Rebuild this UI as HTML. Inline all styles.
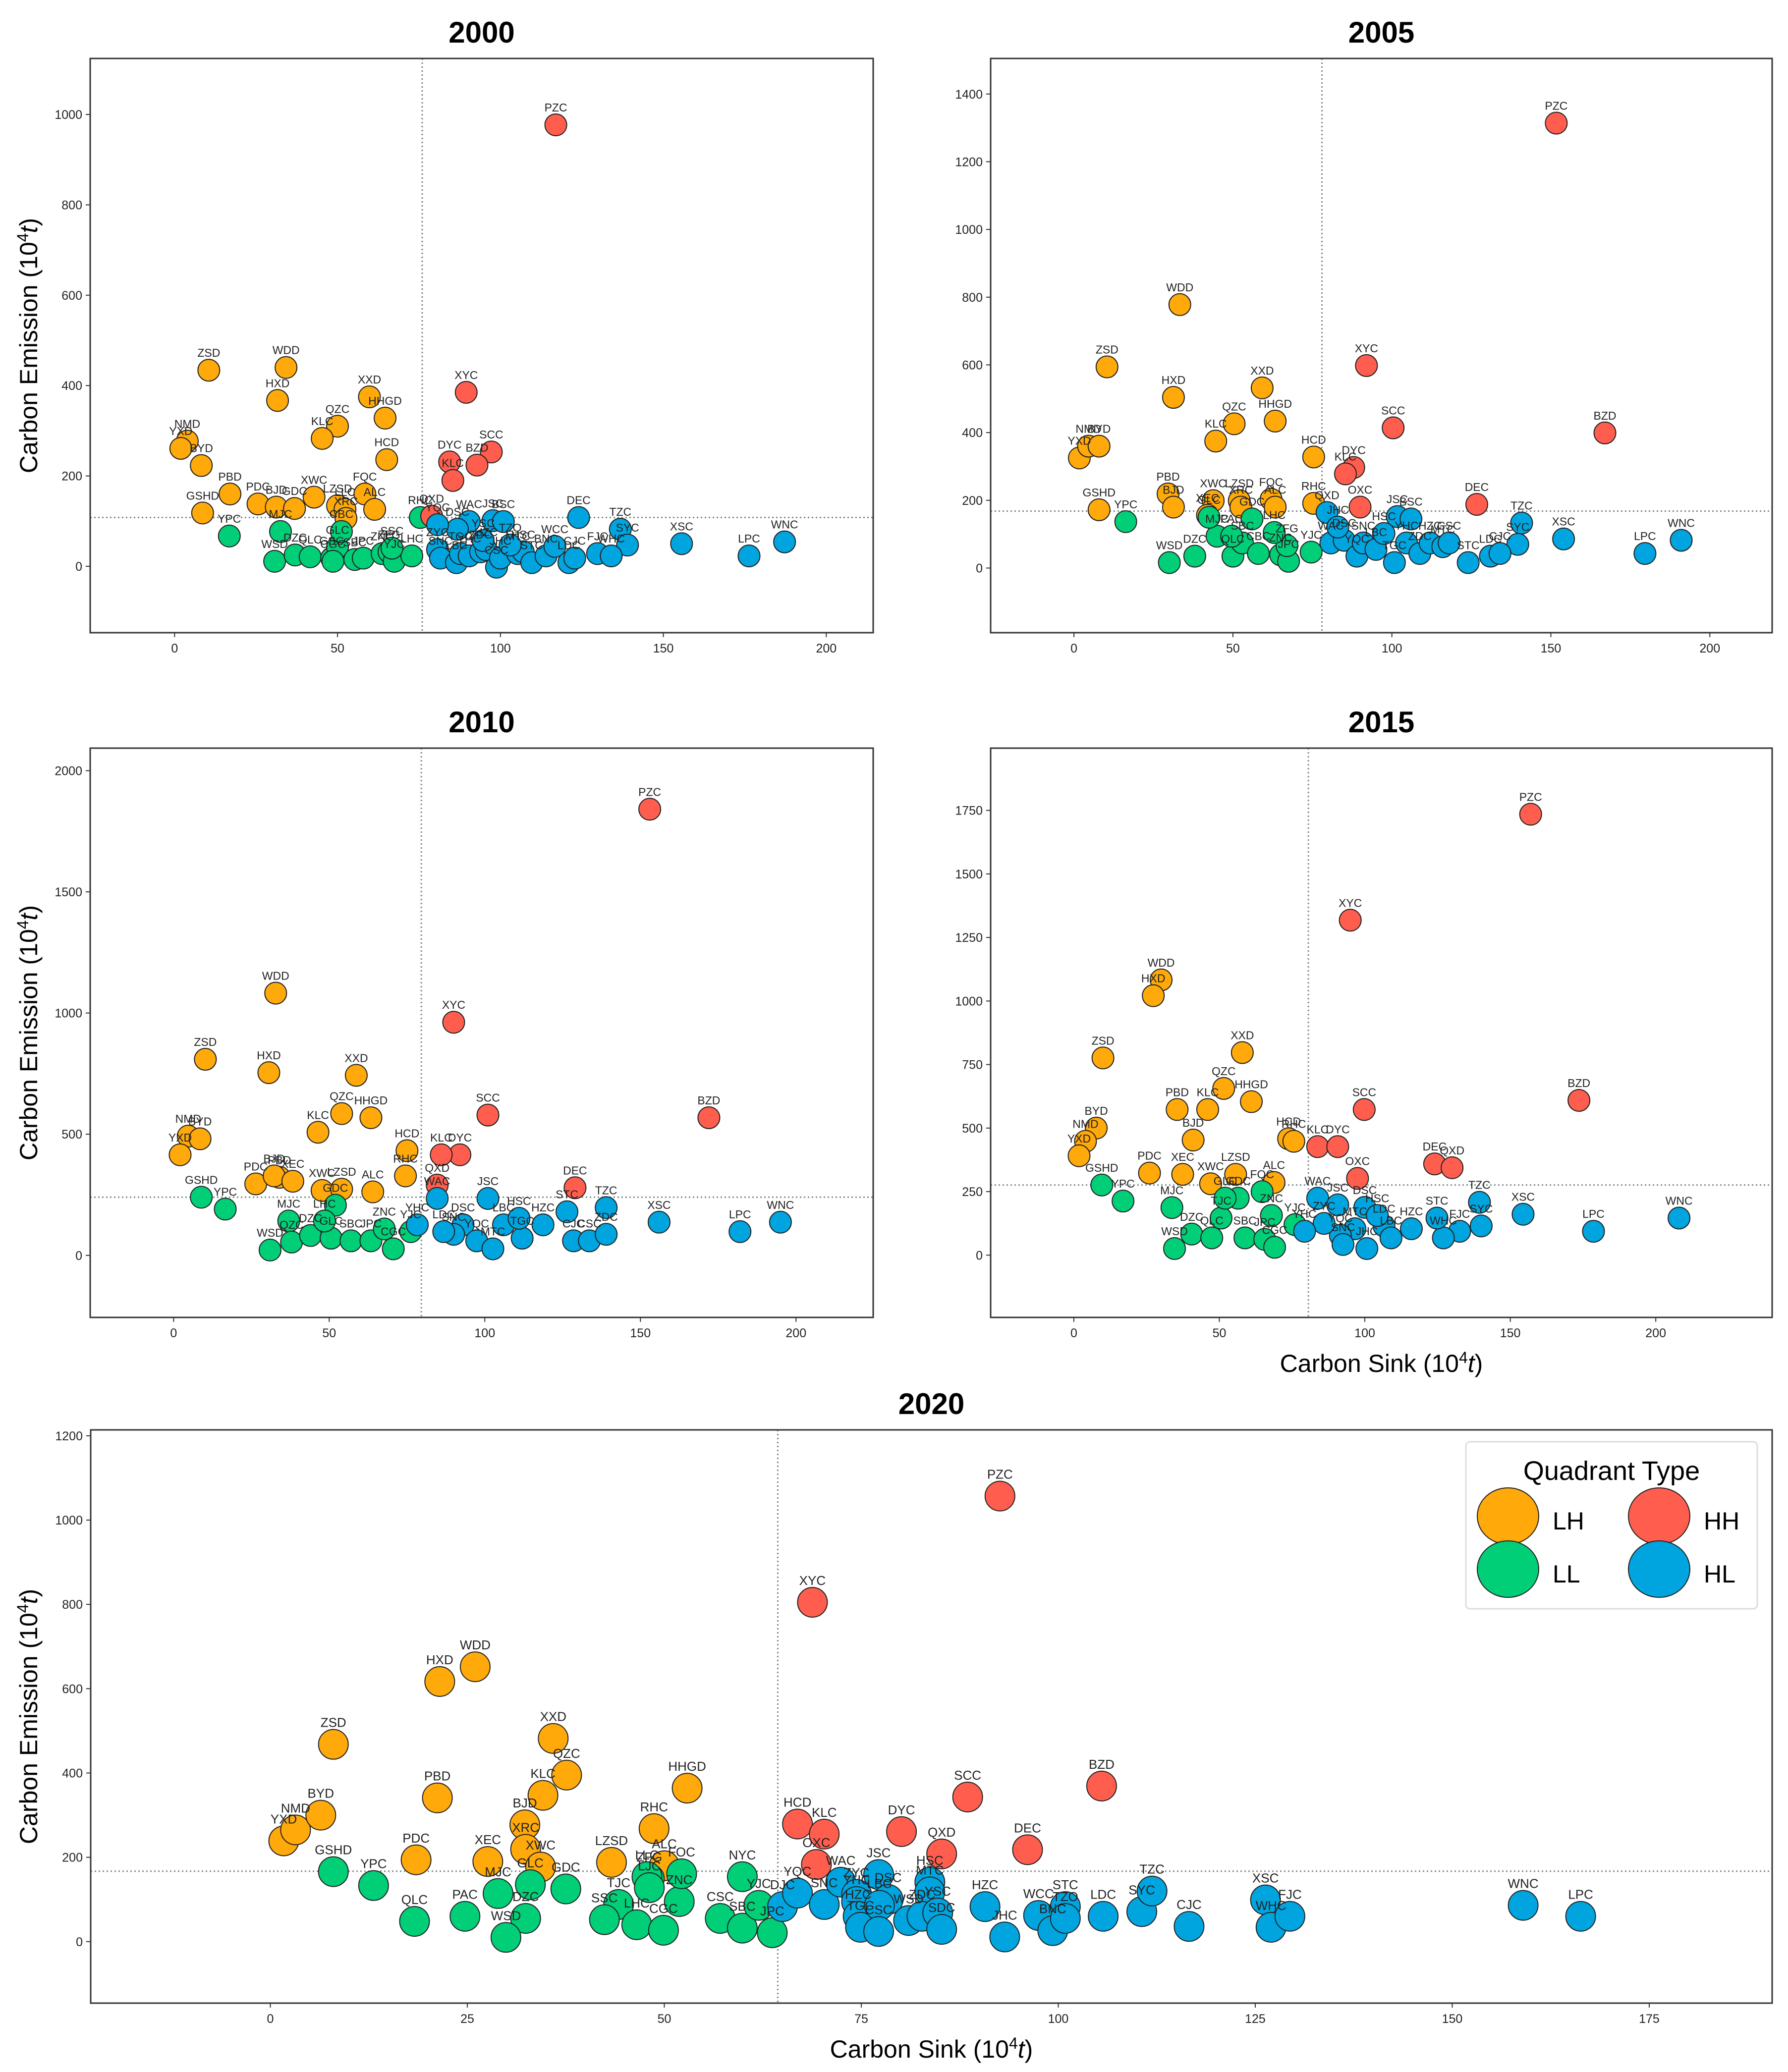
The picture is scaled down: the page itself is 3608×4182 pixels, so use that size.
<!DOCTYPE html>
<html><head><meta charset="utf-8">
<style>
html,body{margin:0;padding:0;background:#fff;}
svg{display:block;}
text{font-family:"Liberation Sans",sans-serif;}
</style></head>
<body>
<svg id="chart" xmlns="http://www.w3.org/2000/svg" width="3608" height="4182" viewBox="0 0 3608 4182">
<rect x="0" y="0" width="3608" height="4182" fill="#fff"/>
</svg>
<script>
// ---------- DATA: 2000 ----------
const names2000 = ["ZSD","WDD","HXD","XXD","HHGD","QZC","KLC","HCD","NMD","YXD","BYD","PBD","GSHD","PDC","BJD","GDC","XWC","LZSD","LLC","XRC","FQC","ALC",
"MJC","YPC","WSD","DZC","QLC","GSC","GLC","CBC","SBC","JPC","ZNC","ZFG","YJC","LHC","CGC","SSC","RHC",
"PZC","XYC","SCC","DYC","BZD","KLC","QXD",
"DEC","TZC","SYC","XSC","LPC","WNC","JSC","BSC","WAC","DSC","YQC","ZYC","SNC","LBC","TGC","YHC","ZDC","HZC","CSC","JHC","MTC","HSC","STC","BNC","WCC","LDC","CJC","FJC","WHC","TZO","YSC"];
const sink2000 = [10.5,34.2,31.6,59.8,64.6,50,45.3,65.1,3.9,1.9,8.2,17,8.6,25.6,31.2,36.8,42.8,50,52.3,52.6,58.4,61.4,
32.5,16.8,30.7,37,41.6,48.2,50,51.2,55.3,57.9,63.7,65.8,67.4,72.8,48.6,66.7,75.4,
117,89.5,97.2,84.4,92.8,85.4,78.9,
124,136.8,139,155.6,176.3,187.2,97.7,100.9,90.4,86.8,80.7,80.7,81.6,86.5,87.7,90.4,93.9,95.6,98.8,100,105.3,107,109.6,114,116.7,121,122.8,129.8,134,103,94.7];
const emis2000 = [434,440,367,375,328,310,283,236,277,261,223,160,118,138,131,128,153,134,126,106,160,126,
77,67,11,25,21,18,42,77,15,18,28,32,11,23,11,40,108,
977,385,253,231,224,190,111,
108,82,47,50,23,54,101,99,99,82,92,37,18,8,28,23,32,37,-2,18,28,32,8,23,44,8,18,28,23,47,57];
const quad2000 = "LH,LH,LH,LH,LH,LH,LH,LH,LH,LH,LH,LH,LH,LH,LH,LH,LH,LH,LH,LH,LH,LH,LL,LL,LL,LL,LL,LL,LL,LL,LL,LL,LL,LL,LL,LL,LL,LL,LL,HH,HH,HH,HH,HH,HH,HH,HL,HL,HL,HL,HL,HL,HL,HL,HL,HL,HL,HL,HL,HL,HL,HL,HL,HL,HL,HL,HL,HL,HL,HL,HL,HL,HL,HL,HL,HL,HL".split(",");

// ---------- DATA: 2005 ----------
const names2005 = ["WDD","ZSD","HXD","XXD","QZC","HHGD","KLC","HCD","YXD","NMD","BYD","PBD","BJD","GSHD","XWC","LZSD","FQC","ALC","RHC","XEC","XRC",
"YPC","WSD","DZC","MJC","GLC","GDC","QLC","SBC","CBC","ZNC","JPC","ZFG","YJC","LHC","PAC",
"PZC","XYC","SCC","BZD","DEC","DYC","KLC","OXC",
"TZC","XSC","LPC","WNC","SYC","JSC","BSC","QXD","WAC","DSC","YQC","SNC","LBC","TGC","YHC","ZDC","HZC","MTC","CSC","STC","LDC","CJC","HSC","JHC"];
const sink2005 = [33.3,10.4,31.3,59.2,50.4,63.3,44.6,75.4,1.7,4.6,7.9,29.6,31.3,7.9,43.8,52,62,63.3,75.4,42,52.5,
16.3,30,38,45,42.5,56,50,53,58,65,67.5,67,74.6,63,49.6,
151.7,92,100.4,167,126.7,88,85.4,90,
140.8,154,179.6,191,139.6,101.7,106,79.6,80.8,85,89,91,95,100.8,104.6,108.8,112,116,118,124,131,134,97.5,83];
const emis2005 = [778,594,504,532,426,434,375,328,325,360,360,219,180,172,199,199,203,180,191,156,180,
137,16,35,94,150,145,35,74,43,39,20,66,47,105,94,
1314,598,414,399,188,297,278,180,
133,86,43,82,70,152,145,164,74,82,35,74,55,16,74,43,74,63,74,16,35,43,102,121];
const quad2005 = "LH,LH,LH,LH,LH,LH,LH,LH,LH,LH,LH,LH,LH,LH,LH,LH,LH,LH,LH,LH,LH,LL,LL,LL,LL,LL,LL,LL,LL,LL,LL,LL,LL,LL,LL,LL,HH,HH,HH,HH,HH,HH,HH,HH,HL,HL,HL,HL,HL,HL,HL,HL,HL,HL,HL,HL,HL,HL,HL,HL,HL,HL,HL,HL,HL,HL,HL,HL".split(",");

// ---------- DATA: 2010 ----------
const names2010 = ["WDD","ZSD","HXD","XXD","QZC","HHGD","KLC","NMD","BYD","YXD","HCD","PBD","PDC","BJD","XEC","RHC","XWC","ALC","LZSD",
"GSHD","YPC","MJC","WSD","QZC","DZC","GLC","SBC","JPC","CGC","ZNC","GDC","LHC","YJC",
"PZC","XYC","SCC","BZD","DEC","DYC","KLC","QXD",
"XSC","LPC","WNC","STC","TZC","JSC","WAC","DSC","YQC","SNC","MTC","LBC","TGC","HZC","CJC","CSC","ZDC","HSC","LDC","YHC"];
const sink2010 = [32.8,10.2,30.6,58.7,54,63.4,46.4,4.7,8.5,2.1,75,34,26.4,32.3,38.3,74.5,47.7,64,54,
8.9,16.6,37,31,37.9,44,50.6,57,63.4,70.6,67.7,52,48.5,76.2,
153,90,101,172,129,92,86,84.7,
156,182,195,126.4,139,101,84.7,93,97.4,90,102.6,106,112,118.7,128.5,133.6,139,111,86.8,78.3];
const emis2010 = [1082,809,754,743,585,568,508,492,481,415,432,322,295,328,306,328,268,262,273,
240,191,142,22,55,82,71,60,60,27,109,207,142,98,
1841,962,579,568,279,415,415,290,
137,98,137,180,197,235,235,126,60,87,27,126,71,126,60,60,87,153,98,126];
const quad2010 = "LH,LH,LH,LH,LH,LH,LH,LH,LH,LH,LH,LH,LH,LH,LH,LH,LH,LH,LH,LL,LL,LL,LL,LL,LL,LL,LL,LL,LL,LL,LL,LL,LL,HH,HH,HH,HH,HH,HH,HH,HH,HL,HL,HL,HL,HL,HL,HL,HL,HL,HL,HL,HL,HL,HL,HL,HL,HL,HL,HL,HL".split(",");

// ---------- DATA: 2015 ----------
const names2015 = ["WDD","HXD","ZSD","XXD","QZC","HHGD","KLC","PBD","BYD","NMD","YXD","BJD","HCD","RHC","PDC","XEC","XWC","LZSD","ALC",
"GSHD","YPC","MJC","WSD","DZC","QLC","TJC","GDC","SBC","JPC","CGC","ZNC","GLC","FQC","YJC",
"PZC","XYC","SCC","BZD","DEC","QXD","KLC","DYC","OXC",
"WNC","LPC","XSC","TZC","SYC","FJC","WHC","STC","HZC","LDC","JHC","MTC","YQC","ZYC","WAC","JSC","DSC","HSC","LBC","SNC","YHC"];
const sink2015 = [30,27.3,10,57.9,51.5,61,46,35.5,7.7,4,1.8,41,73.8,75.6,26,37.4,47,55.6,68.8,
9.6,16.9,33.7,34.6,40.5,47.4,50.6,56.5,58.8,65.6,69,67.9,52,64.7,76,
157,95,99.8,173.6,124,130,83.8,90.7,97.5,
208,178.6,154.4,139.4,140,132.6,127,124.8,116,106.6,100.7,96.6,91.6,86,83.8,90.7,100,104.3,109,92.5,79.3];
const emis2015 = [1083,1021,776,797,656,604,573,573,500,448,391,453,458,448,323,318,281,318,286,
276,213,187,26,83,68,146,224,68,62,31,156,224,250,120,
1735,1318,573,609,359,344,427,427,302,
146,94,161,208,115,94,68,146,104,115,26,104,78,125,224,198,188,156,68,42,94];
const quad2015 = "LH,LH,LH,LH,LH,LH,LH,LH,LH,LH,LH,LH,LH,LH,LH,LH,LH,LH,LH,LL,LL,LL,LL,LL,LL,LL,LL,LL,LL,LL,LL,LL,LL,LL,HH,HH,HH,HH,HH,HH,HH,HH,HH,HL,HL,HL,HL,HL,HL,HL,HL,HL,HL,HL,HL,HL,HL,HL,HL,HL,HL,HL,HL,HL".split(",");

// ---------- DATA: 2020 ----------
const names2020 = ["YXD","NMD","BYD","ZSD","PBD","HXD","WDD","PDC","XEC","BJD","XRC","XWC","KLC","XXD","QZC","HHGD","RHC","LZSD","ALC",
"GSHD","YPC","QLC","PAC","MJC","DZC","WSD","GLC","GDC","TJC","SSC","LHC","ZFG","LLC","ZNC","CGC","FOC","CSC","SBC","JPC","YJC","NYC","LJC",
"PZC","XYC","HCD","KLC","DYC","OXC","QXD","SCC","BZD","DEC",
"DJC","YQC","SNC","WAC","ZYC","JSC","DSC","HSC","MTC","YHC","HZC","TGC","LBC","CSC","WSD","ZDC","YSC","SDC","HZC","JHC","WCC","BNC","STC","TZO","LDC","SYC","TZC","CJC","XSC","WHC","FJC","WNC","LPC"];
const sink2020 = [1.7,3.2,6.4,8,21.2,21.5,26,18.5,27.6,32.3,32.4,34.3,34.6,35.9,37.6,52.9,48.7,43.3,50,
8,13.1,18.3,24.7,28.9,32.4,29.9,33,37.5,44.2,42.4,46.5,48.1,47.8,51.9,49.9,52.2,57.1,59.9,63.7,62,59.9,48.1,
92.6,68.8,66.9,70.3,80.1,69.3,85.2,88.5,105.5,96.1,
65,66.9,70.3,72.4,74.4,77.2,78.4,83.7,83.7,74.4,74.6,74.9,77.3,77.2,81,82.7,84.7,85.2,90.7,93.2,97.5,99.3,100.9,100.9,105.7,110.6,111.9,116.6,126.3,127,129.4,159,166.3];
const emis2020 = [239,265,300,468,341,617,652,194,190,277,219,177,347,482,395,364,268,188,180,
166,133,48,60,114,55,10,135,125,88,52,40,149,154,95,27,161,55,32,21,86,154,128,
1057,805,279,255,261,183,208,343,369,218,
83,115,88,141,112,159,100,141,118,95,60,34,86,24,50,60,68,29,83,11,62,26,83,55,60,71,120,36,99,34,60,86,60];
const quad2020 = "LH,LH,LH,LH,LH,LH,LH,LH,LH,LH,LH,LH,LH,LH,LH,LH,LH,LH,LH,LL,LL,LL,LL,LL,LL,LL,LL,LL,LL,LL,LL,LL,LL,LL,LL,LL,LL,LL,LL,LL,LL,LL,HH,HH,HH,HH,HH,HH,HH,HH,HH,HH,HL,HL,HL,HL,HL,HL,HL,HL,HL,HL,HL,HL,HL,HL,HL,HL,HL,HL,HL,HL,HL,HL,HL,HL,HL,HL,HL,HL,HL,HL,HL,HL,HL".split(",");

const quadTypes = ["LH","HH","LL","HL"];
const quadColors = {LH:"#FFA90A", HH:"#FF5E4E", LL:"#00CF78", HL:"#00A5E0"};

const xTicks2000 = [0,50,100,150,200];
const yTicks2000 = [0,200,400,600,800,1000];
const yTicks2005 = [0,200,400,600,800,1000,1200,1400];
const yTicks2010 = [0,500,1000,1500,2000];
const yTicks2015 = [0,250,500,750,1000,1250,1500,1750];
const xTicks2020 = [0,25,50,75,100,125,150,175];
const yTicks2020 = [0,200,400,600,800,1000,1200];

const NS = "http://www.w3.org/2000/svg";
const svg = document.getElementById("chart");
function mk(tag, attrs, parent){
  const e = document.createElementNS(NS, tag);
  for (const k in attrs) e.setAttribute(k, attrs[k]);
  (parent||svg).appendChild(e);
  return e;
}

const panels = [
 {id:"2000", L:182,R:1762,T:118,B:1277, x0:-25.9,x1:214.4, y0:-147,y1:1124, vx:76, hy:108, r:22,
  names:names2000, xs:sink2000, ys:emis2000, qs:quad2000, xt:xTicks2000, yt:yTicks2000, ylab:true, xlab:false},
 {id:"2005", L:1999,R:3576,T:118,B:1277, x0:-26.2,x1:219.6, y0:-191,y1:1505, vx:78, hy:168, r:22,
  names:names2005, xs:sink2005, ys:emis2005, qs:quad2005, xt:xTicks2000, yt:yTicks2005, ylab:false, xlab:false},
 {id:"2010", L:182,R:1762,T:1510,B:2659, x0:-26.8,x1:224.8, y0:-256,y1:2093, vx:79.6, hy:240, r:22,
  names:names2010, xs:sink2010, ys:emis2010, qs:quad2010, xt:xTicks2000, yt:yTicks2010, ylab:true, xlab:false},
 {id:"2015", L:1999,R:3576,T:1510,B:2659, x0:-28.6,x1:240, y0:-245,y1:1995, vx:80.6, hy:276, r:22,
  names:names2015, xs:sink2015, ys:emis2015, qs:quad2015, xt:xTicks2000, yt:yTicks2015, ylab:false, xlab:true},
 {id:"2020", L:183,R:3576,T:2886,B:4043, x0:-22.8,x1:190.6, y0:-146,y1:1214, vx:64.4, hy:167, r:30,
  names:names2020, xs:sink2020, ys:emis2020, qs:quad2020, xt:xTicks2020, yt:yTicks2020, ylab:true, xlab:true}
];

panels.forEach(p=>{
  const sx = v => p.L + (v - p.x0)/(p.x1 - p.x0)*(p.R - p.L);
  const sy = v => p.B - (v - p.y0)/(p.y1 - p.y0)*(p.B - p.T);
  const g = mk("g", {});
  
  

  const title = mk("text", {x:(p.L+p.R)/2, y:p.T-32, "text-anchor":"middle", "font-size":60, "font-weight":"bold", fill:"#000"}, g);
  title.textContent = p.id;
  
  

  const vl = mk("line", {x1:sx(p.vx), x2:sx(p.vx), y1:p.T, y2:p.B, stroke:"#7f8c8d", "stroke-width":3, "stroke-dasharray":"3,5"}, g);
  
  
  const hl = mk("line", {x1:p.L, x2:p.R, y1:sy(p.hy), y2:sy(p.hy), stroke:"#7f8c8d", "stroke-width":3, "stroke-dasharray":"3,5"}, g);
  
  

  p.xt.forEach(t=>{
    const x = sx(t);
    mk("line",{x1:x,x2:x,y1:p.B,y2:p.B+9,stroke:"#333","stroke-width":2},g);
    const tl = mk("text",{x:x,y:p.B+40,"text-anchor":"middle","font-size":25,fill:"#222"},g);
    tl.textContent = t;
    
    
  });
  p.yt.forEach(t=>{
    const y = sy(t);
    mk("line",{x1:p.L-9,x2:p.L,y1:y,y2:y,stroke:"#333","stroke-width":2},g);
    const tl = mk("text",{x:p.L-16,y:y+9,"text-anchor":"end","font-size":25,fill:"#222"},g);
    tl.textContent = t;
    
    
  });

  const pg = mk("g", {}, g);
  
  
  const n = Math.min(p.xs.length, p.ys.length);
  for (let i=0;i<n;i++){
    const q = p.qs[i] || "HL";
    const nm = p.names[i] || "";
    const c = mk("circle",{cx:sx(p.xs[i]), cy:sy(p.ys[i]), r:p.r, fill:quadColors[q] || "#00A5E0", stroke:"#222", "stroke-width":2}, pg);
    
    
  }
  for (let i=0;i<n;i++){
    const nm = p.names[i] || "";
    const t = mk("text",{x:sx(p.xs[i]), y:sy(p.ys[i]) - p.r - 5, "text-anchor":"middle", "font-size":p.r>25?26:23, fill:"#222"}, pg);
    t.textContent = nm;
    
    
  }

  const fr = mk("rect",{x:p.L,y:p.T,width:p.R-p.L,height:p.B-p.T,fill:"none",stroke:"#333","stroke-width":3},g);
  
  

  if (p.ylab){
    const cy = (p.T+p.B)/2, cx = 75;
    const yl = mk("text",{x:cx,y:cy,"text-anchor":"middle","font-size":50,fill:"#000",transform:`rotate(-90 ${cx} ${cy})`},g);
    
    
    yl.innerHTML = 'Carbon Emission (10<tspan dy="-18" font-size="32">4</tspan><tspan dy="18" font-style="italic">t</tspan>)';
  }
  if (p.xlab){
    const xl = mk("text",{x:(p.L+p.R)/2,y:p.B+110,"text-anchor":"middle","font-size":50,fill:"#000"},g);
    
    
    xl.innerHTML = 'Carbon Sink (10<tspan dy="-18" font-size="32">4</tspan><tspan dy="18" font-style="italic">t</tspan>)';
  }
});

const lg = mk("g",{});


mk("rect",{x:2958,y:2910,width:588,height:337,rx:8,fill:"#fff",stroke:"#ddd","stroke-width":3},lg);
const lt = mk("text",{x:3252,y:2987,"text-anchor":"middle","font-size":54,fill:"#000"},lg);
lt.textContent = "Quadrant Type";


const legPos = {LH:[3043,3060],HH:[3348,3060],LL:[3043,3167],HL:[3348,3167]};
quadTypes.forEach(q=>{
  const cx = legPos[q][0], cy = legPos[q][1];
  const e = mk("ellipse",{cx:cx,cy:cy,rx:62,ry:57,fill:quadColors[q],stroke:"#222","stroke-width":2},lg);
  
  
  const t = mk("text",{x:cx+90,y:cy+27,"font-size":50,fill:"#000"},lg);
  t.textContent = q;
  
  
});
</script>
</body></html>
